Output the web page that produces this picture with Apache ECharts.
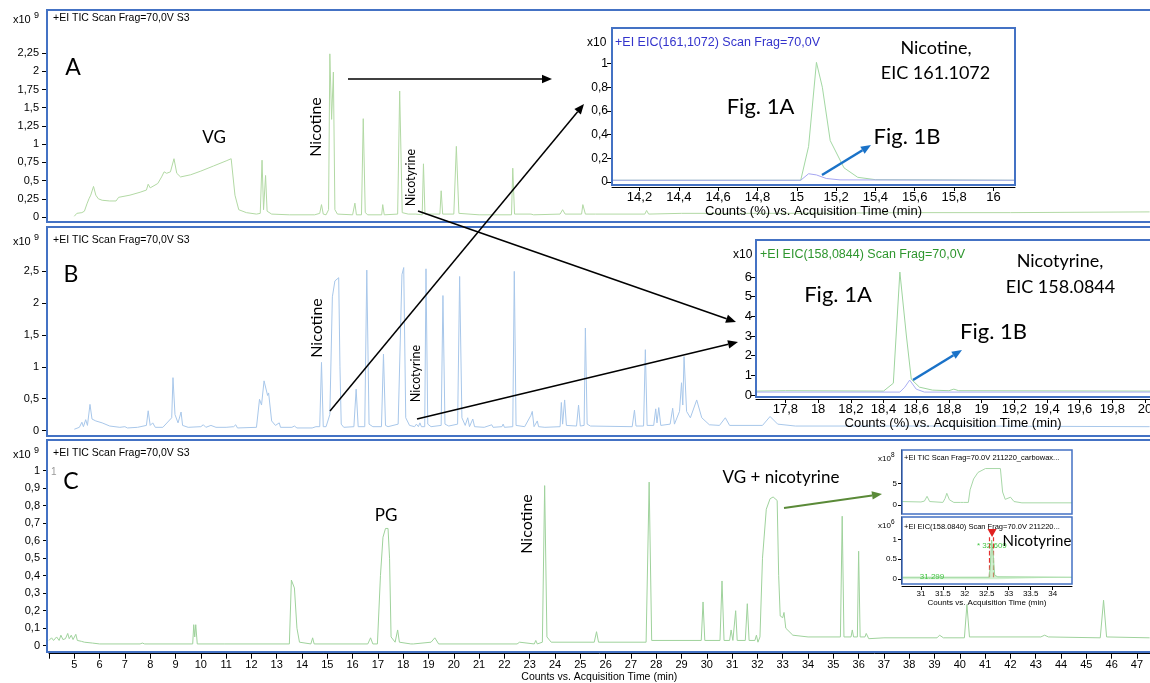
<!DOCTYPE html>
<html>
<head>
<meta charset="utf-8">
<script src="https://cdn.jsdelivr.net/npm/echarts@6/dist/echarts.min.js"></script>
<style>
html, body { margin: 0; padding: 0; background: #fff; }
#chart { width: 1150px; height: 683px; }
</style>
</head>
<body>
<div id="chart"></div>
<script>
// --- data: [time (min), counts x10^9] ---
const traceA = [
  [5.00,0.01],[5.10,0.05],[5.30,0.06],[5.40,0.08],[5.50,0.18],[5.58,0.25],[5.65,0.30],[5.76,0.42],[5.85,0.30],
  [5.95,0.25],[6.10,0.23],[6.40,0.22],[6.65,0.22],[6.75,0.27],[7.20,0.30],[7.60,0.34],[7.85,0.37],[7.92,0.45],
  [8.00,0.40],[8.30,0.46],[8.45,0.55],[8.55,0.62],[8.65,0.60],[8.80,0.62],[8.94,0.80],[9.05,0.60],[9.20,0.55],
  [9.60,0.58],[10.00,0.63],[10.50,0.70],[11.00,0.77],[11.20,0.80],[11.25,0.78],[11.35,0.30],[11.50,0.10],
  [11.80,0.06],[12.20,0.04],[12.35,0.05],[12.42,0.78],[12.48,0.10],[12.56,0.57],[12.62,0.08],[12.80,0.04],
  [13.50,0.03],[14.50,0.03],[14.70,0.05],[14.77,0.17],[14.84,0.04],[14.95,0.03],[15.05,0.10],[15.10,2.24],
  [15.17,1.34],[15.24,1.99],[15.30,0.10],[15.40,0.04],[16.00,0.03],[16.09,0.19],[16.15,0.03],[16.35,0.03],
  [16.42,1.35],[16.50,0.06],[16.60,0.03],[17.15,0.03],[17.19,0.17],[17.25,0.03],[17.78,0.04],[17.86,1.73],
  [17.96,0.06],[18.20,0.04],[18.50,0.04],[18.75,0.03],[18.80,0.73],[18.86,0.04],[19.45,0.04],[19.50,0.36],
  [19.56,0.04],[20.00,0.04],[20.10,0.97],[20.20,0.05],[21.00,0.03],[22.28,0.03],[22.33,0.67],[22.40,0.04],
  [23.05,0.04],[23.10,0.06],[23.15,0.03],[24.20,0.04],[24.30,0.10],[24.40,0.04],[25.05,0.04],[25.10,0.17],
  [25.20,0.04],[25.60,0.04],[27.55,0.04],[27.62,0.09],[27.70,0.04],[29.00,0.05],[33.00,0.05],[38.00,0.06],
  [42.00,0.06],[47.50,0.07]
];
const traceB = [
  [5.00,0.02],[5.20,0.05],[5.30,0.13],[5.36,0.06],[5.45,0.17],[5.52,0.08],[5.62,0.41],[5.70,0.18],[5.85,0.15],
  [6.10,0.12],[6.40,0.07],[6.80,0.05],[7.00,0.06],[7.10,0.04],[7.50,0.05],[7.85,0.08],[7.92,0.31],[8.00,0.08],
  [8.10,0.12],[8.20,0.05],[8.50,0.05],[8.85,0.20],[8.90,0.83],[8.98,0.25],[9.10,0.12],[9.22,0.29],[9.28,0.08],
  [9.50,0.05],[10.00,0.06],[10.10,0.09],[10.20,0.05],[10.40,0.08],[10.60,0.05],[11.00,0.05],[11.30,0.06],
  [11.38,0.09],[11.45,0.04],[12.20,0.05],[12.32,0.49],[12.40,0.40],[12.50,0.78],[12.57,0.80],[12.64,0.55],
  [12.68,0.59],[12.80,0.15],[12.95,0.08],[13.10,0.12],[13.15,0.05],[13.60,0.05],[13.70,0.07],[13.80,0.04],
  [14.40,0.04],[14.55,0.06],[14.70,0.06],[14.77,1.07],[14.84,0.06],[14.95,0.06],[15.10,0.25],[15.20,2.10],
  [15.30,2.35],[15.45,2.40],[15.50,1.00],[15.55,0.10],[15.65,0.05],[16.05,0.06],[16.14,0.65],[16.22,0.06],
  [16.48,0.06],[16.56,2.52],[16.65,0.10],[16.80,0.06],[17.14,0.06],[17.22,1.20],[17.30,0.08],[17.40,0.06],
  [17.80,0.10],[17.95,2.45],[18.02,2.56],[18.10,0.20],[18.25,0.08],[18.45,0.06],[18.52,0.10],[18.60,0.06],
  [18.66,0.12],[18.72,0.06],[18.85,0.06],[18.90,2.54],[18.97,0.10],[19.10,0.06],[19.50,0.08],[19.57,2.12],
  [19.65,0.10],[19.80,0.07],[20.15,0.10],[20.23,2.42],[20.32,0.20],[20.45,0.08],[20.55,0.20],[20.62,0.06],
  [20.75,0.18],[20.82,0.06],[21.20,0.05],[21.50,0.09],[21.55,0.05],[21.90,0.06],[21.95,0.10],[22.00,0.05],
  [22.33,0.06],[22.39,2.50],[22.46,0.08],[22.80,0.06],[23.05,0.24],[23.10,0.30],[23.17,0.06],[23.30,0.15],
  [23.35,0.06],[23.60,0.05],[24.20,0.06],[24.25,0.44],[24.30,0.10],[24.38,0.48],[24.45,0.08],[24.85,0.07],
  [24.93,0.40],[25.00,0.07],[25.15,0.08],[25.20,1.61],[25.27,0.10],[25.40,0.07],[27.05,0.06],[27.14,0.32],
  [27.20,0.07],[27.50,0.07],[27.57,1.27],[27.64,0.08],[27.90,0.08],[27.98,0.34],[28.03,0.12],[28.10,0.36],
  [28.18,0.08],[28.55,0.10],[28.65,0.35],[28.72,0.10],[28.92,0.30],[29.00,0.75],[29.05,0.40],[29.10,1.16],
  [29.20,0.30],[29.35,0.20],[29.60,0.48],[29.80,0.20],[30.10,0.09],[30.50,0.08],[30.73,0.20],[30.90,0.08],
  [32.20,0.08],[32.50,0.22],[32.80,0.10],[33.50,0.07],[40.00,0.07],[47.50,0.06]
];
const traceC = [
  [4.00,0.03],[4.10,0.045],[4.18,0.03],[4.30,0.05],[4.40,0.03],[4.47,0.06],[4.55,0.035],[4.65,0.04],[4.74,0.07],
  [4.80,0.04],[4.88,0.06],[4.95,0.035],[5.06,0.065],[5.12,0.03],[5.28,0.025],[5.40,0.02],[5.72,0.015],[6.00,0.01],
  [7.60,0.01],[7.69,0.015],[7.78,0.01],[9.68,0.01],[9.72,0.12],[9.76,0.05],[9.80,0.12],[9.86,0.01],[10.95,0.01],
  [10.98,0.02],[11.02,0.01],[13.50,0.01],[13.58,0.375],[13.70,0.33],[13.80,0.10],[13.90,0.02],[14.35,0.01],
  [14.42,0.045],[14.48,0.01],[16.60,0.01],[16.71,0.045],[16.80,0.01],[16.98,0.01],[17.10,0.40],[17.20,0.62],
  [17.30,0.67],[17.40,0.67],[17.46,0.50],[17.52,0.05],[17.68,0.02],[17.78,0.09],[17.85,0.02],[18.30,0.01],
  [18.35,0.02],[18.40,0.01],[19.10,0.02],[19.25,0.045],[19.40,0.01],[22.50,0.01],[22.60,0.02],[22.65,0.01],
  [23.18,0.01],[23.24,0.03],[23.30,0.01],[23.50,0.02],[23.59,0.915],[23.68,0.05],[23.85,0.02],[25.55,0.02],
  [25.64,0.08],[25.72,0.02],[27.60,0.02],[27.72,0.935],[27.82,0.03],[29.78,0.03],[29.85,0.25],[29.92,0.03],
  [30.52,0.03],[30.60,0.37],[30.68,0.03],[30.90,0.03],[30.96,0.09],[31.03,0.03],[31.14,0.20],[31.20,0.03],
  [31.52,0.03],[31.60,0.24],[31.67,0.03],[31.90,0.03],[31.96,0.06],[32.02,0.02],[32.10,0.05],[32.20,0.50],
  [32.35,0.78],[32.50,0.84],[32.62,0.85],[32.78,0.83],[32.84,0.40],[32.90,0.17],[33.00,0.16],[33.05,0.19],
  [33.12,0.10],[33.40,0.06],[34.00,0.05],[35.28,0.05],[35.35,0.74],[35.42,0.05],[35.70,0.05],[35.75,0.09],
  [35.80,0.05],[35.95,0.05],[36.00,0.54],[36.06,0.05],[36.25,0.05],[36.30,0.07],[36.40,0.04],[37.00,0.045],
  [39.10,0.045],[39.20,0.06],[39.35,0.045],[40.18,0.045],[40.28,0.235],[40.38,0.05],[43.20,0.05],[43.35,0.06],
  [43.50,0.05],[45.55,0.045],[45.68,0.26],[45.80,0.05],[47.50,0.045]
];

// inset A: EIC 161.1072, Fig. 1A (green) and Fig. 1B (blue)
const nicotine1A = [[14.06,0.015],[15.02,0.015],[15.06,0.30],[15.10,1.01],[15.13,0.80],[15.17,0.35],[15.24,0.12],[15.31,0.04],[15.40,0.02],[16.11,0.015]];
const nicotine1B = [[14.06,0.015],[15.02,0.015],[15.06,0.07],[15.10,0.06],[15.15,0.03],[15.22,0.018],[16.11,0.015]];
// inset B: EIC 158.0844
const nicotyrine1A = [[17.62,0.20],[17.80,0.22],[18.40,0.20],[18.46,0.60],[18.50,6.25],[18.54,3.00],[18.57,0.80],[18.62,0.40],[18.70,0.25],[18.80,0.22],[18.83,0.30],[18.86,0.22],[20.03,0.20]];
const nicotyrine1B = [[17.62,0.15],[18.50,0.15],[18.53,0.40],[18.56,0.76],[18.60,0.30],[18.65,0.15],[20.03,0.15]];
// inset C: TIC (x10^8) and EIC 158.0840 (x10^6)
const insetTic = [[30.57,0.8],[31.00,0.7],[31.08,0.9],[31.14,2.0],[31.20,0.8],[31.50,0.6],[31.55,1.5],[31.59,2.7],[31.65,1.2],[31.75,0.6],[31.90,0.6],[31.93,0.8],[31.97,0.6],[32.08,0.6],[32.12,3.5],[32.20,6.0],[32.30,7.5],[32.47,8.4],[32.81,8.4],[32.86,3.0],[32.92,1.3],[33.04,1.8],[33.12,0.8],[33.30,0.5],[34.44,0.5]];
const insetEic = [[30.57,0.05],[32.55,0.05],[32.58,0.30],[32.61,0.98],[32.64,0.70],[32.68,0.10],[32.75,0.06],[34.44,0.05]];

// tick values
const xTicksMain = [4,5,6,7,8,9,10,11,12,13,14,15,16,17,18,19,20,21,22,23,24,25,26,27,28,29,30,31,32,33,34,35,36,37,38,39,40,41,42,43,44,45,46,47];
const yTicksA = [0,0.25,0.5,0.75,1,1.25,1.5,1.75,2,2.25];
const yTicksB = [0,0.5,1,1.5,2,2.5];
const yTicksC = [0,0.1,0.2,0.3,0.4,0.5,0.6,0.7,0.8,0.9,1];
const xTicksInsetA = [14.2,14.4,14.6,14.8,15,15.2,15.4,15.6,15.8,16];
const yTicksInsetA = [0,0.2,0.4,0.6,0.8,1];
const xTicksInsetB = [17.8,18,18.2,18.4,18.6,18.8,19,19.2,19.4,19.6,19.8,20];
const yTicksInsetB = [0,1,2,3,4,5,6];
const xTicksInsetC = [31,31.5,32,32.5,33,33.5,34];
const yTicksInsetTic = [0,5];
const yTicksInsetEic = [0,0.5,1];

const comma = v => String(+(+v).toFixed(2)).replace('.', ',');
const AX = '#000';
const SANS = 'Liberation Sans, Arial, sans-serif';
const CAL = 'Lato, Open Sans, sans-serif';
const BLUE = '#4472c4';

function xAx(grid, min, max, o) {
  return Object.assign({
    type: 'value', gridIndex: grid, min: min, max: max, show: true,
    axisLine: { show: false }, axisTick: { show: false }, axisLabel: { show: false }, splitLine: { show: false }
  }, o || {});
}
function yAx(grid, min, max, ticks, fmt, o) {
  return Object.assign({
    type: 'value', gridIndex: grid, min: min, max: max, offset: 3,
    axisLine: { show: true, lineStyle: { color: AX, width: 1 } },
    axisTick: { show: true, length: 4, customValues: ticks, lineStyle: { color: AX } },
    axisLabel: { customValues: ticks, formatter: fmt, fontSize: 11, color: AX, fontFamily: SANS, margin: 7 },
    splitLine: { show: false }
  }, o || {});
}
function line(xi, data, color, z, extra) {
  return Object.assign({
    type: 'line', xAxisIndex: xi, yAxisIndex: xi, data: data, showSymbol: false, symbol: 'none',
    lineStyle: { color: color, width: 1 }, z: z, animation: false, silent: true
  }, extra || {});
}
function text(t, x, y, font, o) {
  return Object.assign({ type: 'text', x: x, y: y, z: 20, silent: true,
    style: { text: t, font: font, fill: '#000', align: 'left', verticalAlign: 'middle' } }, o || {});
}
function ctext(t, x, y, font, o) {
  const e = text(t, x, y, font, o);
  e.style.align = 'center';
  return e;
}
function vtext(t, x, y, font) {
  const e = ctext(t, x, y, font);
  e.rotation = Math.PI / 2;
  return e;
}
function arrow(x1, y1, x2, y2, color, w, hl) {
  const a = Math.atan2(y2 - y1, x2 - x1), hw = hl * 0.42;
  const bx = x2 - hl * Math.cos(a), by = y2 - hl * Math.sin(a);
  const px = -Math.sin(a) * hw, py = Math.cos(a) * hw;
  return [
    { type: 'line', z: 30, silent: true, shape: { x1: x1, y1: y1, x2: bx, y2: by }, style: { stroke: color, lineWidth: w } },
    { type: 'polygon', z: 30, silent: true, shape: { points: [[x2, y2], [bx + px, by + py], [bx - px, by - py]] }, style: { fill: color } }
  ];
}
function box(x, y, w, h, fill, lw, z) {
  return { type: 'rect', z: z, silent: true, shape: { x: x, y: y, width: w, height: h },
    style: { fill: fill || 'none', stroke: fill ? 'none' : BLUE, lineWidth: lw || 2 } };
}

const chart = echarts.init(document.getElementById('chart'), null, { renderer: 'canvas' });

const grids = [
  { left: 49, top: 40, width: 1100.6, height: 177 },
  { left: 49, top: 251, width: 1100.6, height: 179.5 },
  { left: 49, top: 466, width: 1100.6, height: 179.7 },
  { left: 612, top: 28, width: 403, height: 157 },
  { left: 756, top: 240, width: 394, height: 157 },
  { left: 902, top: 450, width: 170, height: 64 },
  { left: 902, top: 517, width: 170, height: 67 }
].map(g => Object.assign({ outerBoundsMode: 'none', containLabel: false }, g));

const insetXLabel = (ticks, fmt, size, name, gap, margin) => ({
  axisLine: { show: true, onZero: false, lineStyle: { color: AX } },
  axisTick: { show: true, length: 4, customValues: ticks, lineStyle: { color: AX } },
  axisLabel: { show: true, customValues: ticks, formatter: fmt, fontSize: size, color: AX, fontFamily: SANS, margin: margin },
  name: name, nameLocation: 'middle', nameGap: gap,
  nameTextStyle: { fontSize: size, color: AX, fontFamily: SANS },
  z: 6, position: 'bottom', offset: 2
});

const option = {
  backgroundColor: '#fff',
  animation: false,
  grid: grids,
  xAxis: [
    xAx(0, 4, 47.5),
    xAx(1, 4, 47.5),
    xAx(2, 4, 47.5, {
      offset: 8,
      axisLine: { show: true, onZero: false, lineStyle: { color: AX } },
      axisTick: { show: true, length: 5, customValues: xTicksMain, lineStyle: { color: AX } },
      axisLabel: { show: true, customValues: xTicksMain.slice(1), fontSize: 11, color: AX, fontFamily: SANS, margin: 6 },
      name: 'Counts vs. Acquisition Time (min)', nameLocation: 'middle', nameGap: 18,
      nameTextStyle: { fontSize: 10.5, color: AX, fontFamily: SANS }
    }),
    xAx(3, 14.06, 16.11, insetXLabel(xTicksInsetA, comma, 13, 'Counts (%) vs. Acquisition Time (min)', 15, 4)),
    xAx(4, 17.62, 20.03, insetXLabel(xTicksInsetB, comma, 13, 'Counts (%) vs. Acquisition Time (min)', 15, 4)),
    xAx(5, 30.57, 34.44, { z: 6 }),
    xAx(6, 30.57, 34.44, insetXLabel(xTicksInsetC, v => String(v), 8, 'Counts vs. Acquisition Time (min)', 12, 4))
  ],
  yAxis: [
    yAx(0, 0, 2.43, yTicksA, comma),
    yAx(1, 0, 2.82, yTicksB, comma),
    yAx(2, 0, 1.027, yTicksC, comma, { offset: 2 }),
    yAx(3, -0.025, 1.3, yTicksInsetA, comma, { offset: 1, z: 6, axisLabel: { customValues: yTicksInsetA, formatter: comma, fontSize: 12, color: AX, fontFamily: SANS, margin: 3 } }),
    yAx(4, -0.1, 7.88, yTicksInsetB, v => String(v), { offset: 1, z: 6, axisLabel: { customValues: yTicksInsetB, fontSize: 13, color: AX, fontFamily: SANS, margin: 3 } }),
    yAx(5, -2.07, 12.67, yTicksInsetTic, v => String(v), { offset: 1, z: 6, axisTick: { show: true, length: 3, customValues: yTicksInsetTic }, axisLabel: { customValues: yTicksInsetTic, fontSize: 8, color: AX, fontFamily: SANS, margin: 4 } }),
    yAx(6, -0.12, 1.56, yTicksInsetEic, v => String(v), { offset: 1, z: 6, axisTick: { show: true, length: 3, customValues: yTicksInsetEic }, axisLabel: { customValues: yTicksInsetEic, fontSize: 8, color: AX, fontFamily: SANS, margin: 4 } })
  ],
  series: [
    line(0, traceA, '#b2d9a4', 2),
    line(1, traceB, '#a8c7ea', 2),
    line(2, traceC, '#9fd29c', 2),
    line(3, nicotine1A, '#a3d8a3', 6),
    line(3, nicotine1B, '#a6a6f2', 6),
    line(4, nicotyrine1A, '#9ed49e', 6),
    line(4, nicotyrine1B, '#a9aef2', 6),
    line(5, insetTic, '#a8d8a8', 6),
    line(6, insetEic, '#9ad69a', 6, {
      areaStyle: { color: 'rgba(160,225,160,0.7)' },
      markLine: {
        silent: true, symbol: ['none', 'none'], label: { show: false },
        lineStyle: { color: '#e53030', type: 'dashed', width: 1.2 },
        data: [
          [{ coord: [32.56, 0.05] }, { coord: [32.56, 1.05] }],
          [{ coord: [32.65, 0.05] }, { coord: [32.65, 1.05] }]
        ]
      },
      markPoint: {
        silent: true, symbol: 'triangle', symbolSize: [9, 8], symbolRotate: 180, label: { show: false },
        itemStyle: { color: '#e02020' },
        data: [{ coord: [32.62, 1.16] }]
      }
    })
  ],
  graphic: { elements: [] }
};

const G = option.graphic.elements;
// panel frames
G.push(box(47, 10, 1110, 212, null, 2, 3));
G.push(box(47, 227, 1110, 209, null, 2, 3));
G.push(box(47, 440, 1110, 212, null, 2, 3));
// inset backgrounds and frames
[[612, 28, 403, 157, 2], [756, 240, 400, 157, 2], [902, 450, 170, 64, 1.5], [902, 517, 170, 67, 1.5]].forEach(b => {
  G.push(box(b[0], b[1], b[2], b[3], '#fff', 0, 4));
  G.push(box(b[0], b[1], b[2], b[3], null, b[4], 8));
});

// header texts
[18, 240, 453].forEach(y => {
  G.push(text('x10', 13, y + 2, '11px ' + SANS));
  G.push(text('9', 34, y - 2, '9px ' + SANS));
  G.push(text('+EI TIC Scan Frag=70,0V S3', 53, y, '10.5px ' + SANS));
});
G.push(text('1', 51, 472, '10px ' + SANS, { style: { text: '1', font: '10px ' + SANS, fill: '#999', verticalAlign: 'middle' } }));

// panel annotations
G.push(ctext('A', 73, 68, '23px ' + CAL));
G.push(ctext('B', 71, 275, '23px ' + CAL));
G.push(ctext('C', 71, 482, '23px ' + CAL));
G.push(ctext('VG', 214, 138, '17px ' + CAL));
G.push(vtext('Nicotine', 315.5, 127, '16px ' + CAL));
G.push(vtext('Nicotyrine', 411, 177.5, '12.5px ' + CAL));
G.push(vtext('Nicotine', 317, 328, '16px ' + CAL));
G.push(vtext('Nicotyrine', 416, 373.5, '12.5px ' + CAL));
G.push(ctext('PG', 386, 516, '17px ' + CAL));
G.push(vtext('Nicotine', 527, 524, '16px ' + CAL));
G.push(ctext('VG + nicotyrine', 781, 478, '17px ' + CAL));

// inset A texts
G.push(text('x10', 587, 43, '12px ' + SANS, { z: 3 }));
G.push(text('+EI EIC(161,1072) Scan Frag=70,0V', 615, 43, '12.5px ' + SANS, { style: { text: '+EI EIC(161,1072) Scan Frag=70,0V', font: '12.5px ' + SANS, fill: '#3333cc', verticalAlign: 'middle' } }));
G.push(ctext('Nicotine,', 936, 48, '18px ' + CAL));
G.push(ctext('EIC 161.1072', 935.5, 73, '18px ' + CAL));
G.push(ctext('Fig. 1A', 760.5, 107, '22px ' + CAL));
G.push(ctext('Fig. 1B', 907, 137, '22px ' + CAL));
// inset B texts
G.push(text('x10', 733, 255, '12px ' + SANS, { z: 3 }));
G.push(text('+EI EIC(158,0844) Scan Frag=70,0V', 760, 255, '12.5px ' + SANS, { style: { text: '+EI EIC(158,0844) Scan Frag=70,0V', font: '12.5px ' + SANS, fill: '#2e962e', verticalAlign: 'middle' } }));
G.push(ctext('Nicotyrine,', 1060, 261, '18px ' + CAL));
G.push(ctext('EIC 158.0844', 1060.5, 287, '18px ' + CAL));
G.push(ctext('Fig. 1A', 838, 295, '22px ' + CAL));
G.push(ctext('Fig. 1B', 993.5, 332, '22px ' + CAL));
// inset C texts
G.push(text('x10', 878, 459, '8px ' + SANS));
G.push(text('8', 891, 455, '6.5px ' + SANS));
G.push(text('+EI TIC Scan Frag=70.0V 211220_carbowax...', 904, 458, '7.5px ' + SANS));
G.push(text('x10', 878, 526, '8px ' + SANS));
G.push(text('6', 891, 522, '6.5px ' + SANS));
G.push(text('+EI EIC(158.0840) Scan Frag=70.0V 211220...', 904, 527, '7.5px ' + SANS));
G.push(text('* 32.609', 977, 546, '8px ' + SANS, { style: { text: '* 32.609', font: '8px ' + SANS, fill: '#44c444', verticalAlign: 'middle' } }));
G.push(ctext('31.299', 932, 577, '8px ' + SANS, { style: { text: '31.299', font: '8px ' + SANS, fill: '#44c444', align: 'center', verticalAlign: 'middle' } }));
G.push(ctext('Nicotyrine', 1037, 541, '15px ' + CAL, { z: 21, style: { text: 'Nicotyrine', font: '15px ' + CAL, fill: '#000', align: 'center', verticalAlign: 'middle', backgroundColor: 'rgba(255,255,255,0)' } }));

// arrows
G.push(...arrow(348, 79, 552, 79, '#000', 1.5, 10));
G.push(...arrow(330, 411, 584, 104, '#000', 1.5, 10));
G.push(...arrow(418, 211, 736, 322, '#000', 1.5, 10));
G.push(...arrow(417, 419, 738, 342, '#000', 1.5, 10));
G.push(...arrow(822, 175, 871, 145, '#1a72c8', 2.5, 10));
G.push(...arrow(913, 380, 962, 350, '#1a72c8', 2.5, 10));
G.push(...arrow(784, 508, 882, 494, '#5a8a38', 2, 10));

chart.setOption(option);
</script>
</body>
</html>
